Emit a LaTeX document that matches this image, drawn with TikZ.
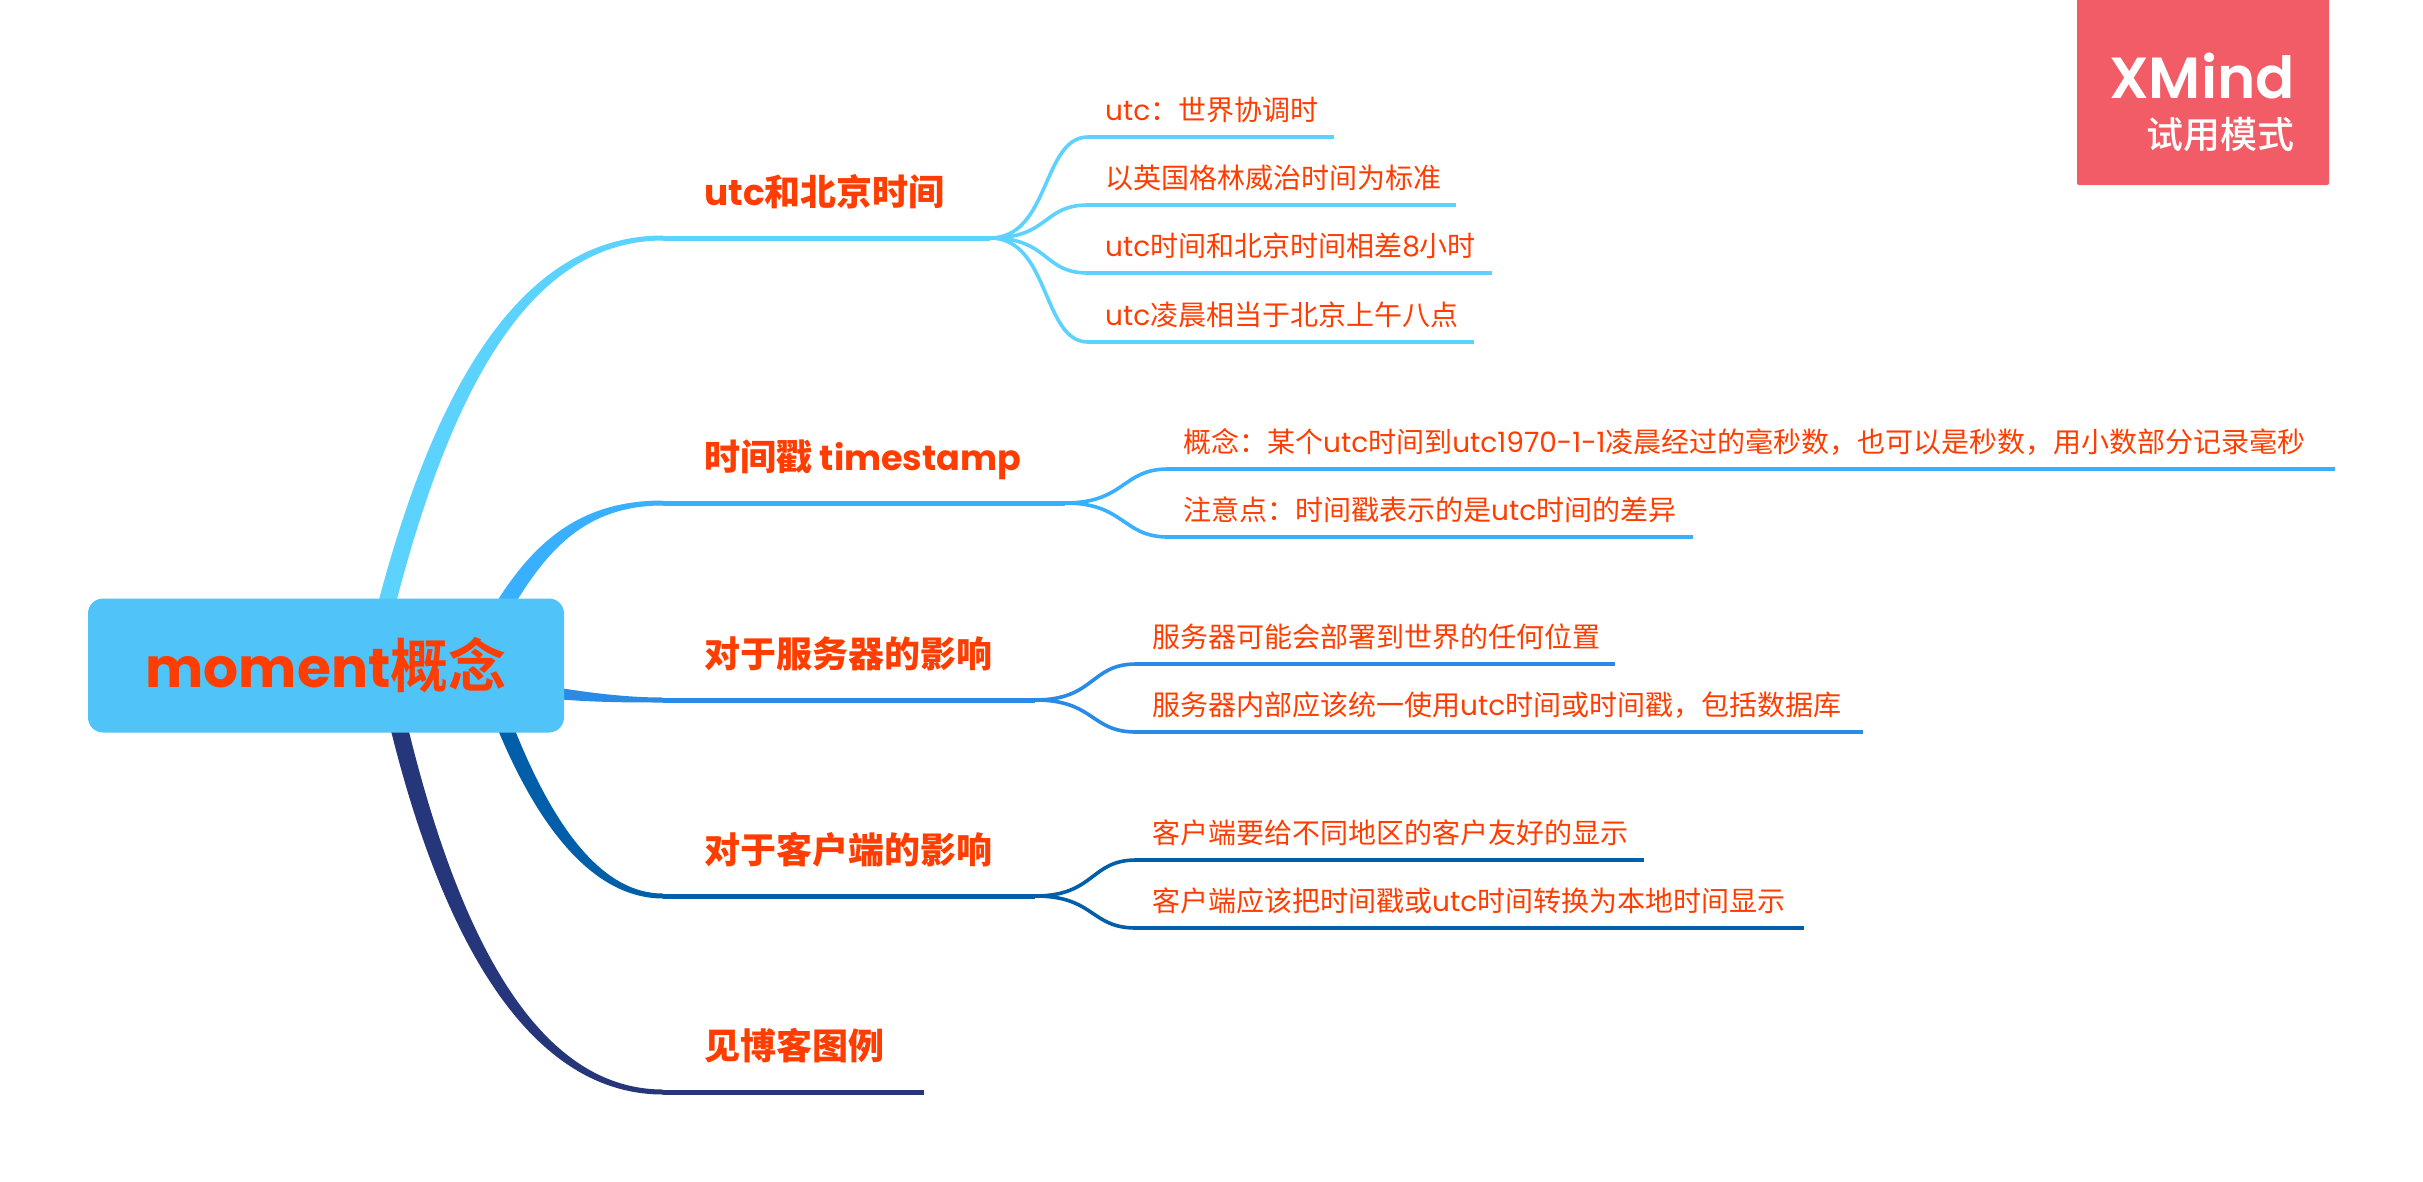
\documentclass[tikz,border=0pt]{standalone}
\usepackage{fontspec}
\setmainfont{Poppins}
\newfontfamily\zhfont{Noto Sans CJK SC}
\newfontfamily\zhblack{Noto Sans CJK SC Black}
\newfontfamily\zhmed{Noto Sans CJK SC Medium}
\newfontfamily\wmfont{Poppins SemiBold}
\newcommand{\zh}[1]{{\zhfont #1}}
\definecolor{txt}{HTML}{FF3D00}
\definecolor{boxc}{HTML}{50C3F8}
\definecolor{wm}{HTML}{F25C66}
\definecolor{ca}{HTML}{5CD3FF}
\definecolor{cb}{HTML}{38B0FF}
\definecolor{cc}{HTML}{2A8BE6}
\definecolor{cd}{HTML}{005FA8}
\definecolor{ce}{HTML}{26367A}
\tikzset{
  leaf/.style={anchor=base west,inner sep=0pt,text=txt,font=\fontsize{28}{34}\selectfont},
  topic/.style={anchor=base west,inner sep=0pt,text=txt,font=\fontsize{36}{44}\selectfont\bfseries},
  rule/.style={line width=5pt},
  subrule/.style={line width=4.6pt},
  link/.style={line width=3.6pt}
}
% colour, start, c1, c2, end, half width dx, dy  (dx side ends below the line)
\newcommand{\taper}[7]{%
  \fill[#1] ([shift={(#6,#7)}]#2) .. controls ([shift={(#6,#7)}]#3) and ([shift={(#6*0.45,2.5)}]#4) .. ([shift={(0,2.5)}]#5)
    -- ([shift={(0,-2.5)}]#5) .. controls ([shift={(-#6*0.45,-2.5)}]#4) and ([shift={(-#6,-#7)}]#3) .. ([shift={(-#6,-#7)}]#2) -- cycle;}
\newcommand{\twig}[4]{% colour, from, to, end of line
  \draw[#1,link] (#2) .. controls ([xshift=60pt]#2) and ([xshift=-46pt]#3) .. (#3);
  \draw[#1,subrule] (#3) -- (#4);}
\begin{document}
\begin{tikzpicture}[x=1pt,y=-1pt]
\useasboundingbox (0,0) rectangle (2423,1181);
% branch geometry
\coordinate (ba) at (663,238);  \coordinate (bae) at (990,238);
\coordinate (bb) at (663,503);  \coordinate (bbe) at (1065,503);
\coordinate (bc) at (663,700);  \coordinate (bce) at (1035,700);
\coordinate (bd) at (663,896);  \coordinate (bde) at (1035,896);
\coordinate (be) at (663,1092); \coordinate (bee) at (924,1092);
% tapered main branches
\coordinate (s1) at (372,665); \coordinate (k1a) at (432,400); \coordinate (k1b) at (520,238);
\coordinate (s2) at (475,660); \coordinate (k2a) at (524,560); \coordinate (k2b) at (570,503);
\coordinate (s3) at (500,685); \coordinate (k3a) at (560,695); \coordinate (k3b) at (610,700);
\coordinate (s4) at (478,650); \coordinate (k4a) at (528,810); \coordinate (k4b) at (590,896);
\coordinate (s5) at (385,665); \coordinate (k5a) at (440,930); \coordinate (k5b) at (530,1092);
\taper{ca}{s1}{k1a}{k1b}{ba}{8.5}{2}
\taper{cb}{s2}{k2a}{k2b}{bb}{8}{4}
\taper{cc}{s3}{k3a}{k3b}{bc}{0.5}{7}
\taper{cd}{s4}{k4a}{k4b}{bd}{-8}{2}
\taper{ce}{s5}{k5a}{k5b}{be}{-8.5}{2}
\draw[ca,rule] (ba) -- (bae);
\draw[cb,rule] (bb) -- (bbe);
\draw[cc,rule] (bc) -- (bce);
\draw[cd,rule] (bd) -- (bde);
\draw[ce,rule] (be) -- (bee);
% central topic
\node[fill=boxc,rounded corners=15pt,minimum width=476pt,minimum height=134pt,inner sep=0pt,text=txt,
  font=\fontsize{55}{60}\selectfont\bfseries] (root) at (326,665.5) {moment{\zhblack\fontsize{58}{60}\selectfont 概念}};
% topic labels
\node[topic] (ta) at (704,205) {utc\zh{和北京时间}};
\node[topic] (tb) at (704,470) {\zh{时间戳} {\fontsize{35}{44}\selectfont timestamp}};
\node[topic] (tc) at (704,667) {\zh{对于服务器的影响}};
\node[topic] (td) at (704,863) {\zh{对于客户端的影响}};
\node[topic] (te) at (704,1059) {\zh{见博客图例}};
% leaves of branch a
\coordinate (a1) at (1088,137); \coordinate (a1e) at (1334,137);
\coordinate (a2) at (1088,205); \coordinate (a2e) at (1456,205);
\coordinate (a3) at (1088,273); \coordinate (a3e) at (1492,273);
\coordinate (a4) at (1088,342); \coordinate (a4e) at (1474,342);
\twig{ca}{bae}{a1}{a1e}\twig{ca}{bae}{a2}{a2e}\twig{ca}{bae}{a3}{a3e}\twig{ca}{bae}{a4}{a4e}
\node[leaf] (la1) at (1105,120) {utc\zh{：世界协调时}};
\node[leaf] (la2) at (1105,188) {\zh{以英国格林威治时间为标准}};
\node[leaf] (la3) at (1105,256) {utc\zh{时间和北京时间相差}8\zh{小时}};
\node[leaf] (la4) at (1105,325) {utc\zh{凌晨相当于北京上午八点}};
% leaves of branch b
\coordinate (b1) at (1168,469); \coordinate (b1e) at (2335,469);
\coordinate (b2) at (1168,537); \coordinate (b2e) at (1693,537);
\twig{cb}{bbe}{b1}{b1e}\twig{cb}{bbe}{b2}{b2e}
\node[leaf] (lb1) at (1183,452) {\zh{概念：某个}utc\zh{时间到}utc1970-1-1\zh{凌晨经过的毫秒数，也可以是秒数，用小数部分记录毫秒}};
\node[leaf] (lb2) at (1183,520) {\zh{注意点：时间戳表示的是}utc\zh{时间的差异}};
% leaves of branch c
\coordinate (c1) at (1136,664); \coordinate (c1e) at (1615,664);
\coordinate (c2) at (1136,732); \coordinate (c2e) at (1863,732);
\twig{cc}{bce}{c1}{c1e}\twig{cc}{bce}{c2}{c2e}
\node[leaf] (lc1) at (1152,647) {\zh{服务器可能会部署到世界的任何位置}};
\node[leaf] (lc2) at (1152,715) {\zh{服务器内部应该统一使用}utc\zh{时间或时间戳，包括数据库}};
% leaves of branch d
\coordinate (d1) at (1136,860); \coordinate (d1e) at (1644,860);
\coordinate (d2) at (1136,928); \coordinate (d2e) at (1804,928);
\twig{cd}{bde}{d1}{d1e}\twig{cd}{bde}{d2}{d2e}
\node[leaf] (ld1) at (1152,843) {\zh{客户端要给不同地区的客户友好的显示}};
\node[leaf] (ld2) at (1152,911) {\zh{客户端应该把时间戳或}utc\zh{时间转换为本地时间显示}};
% watermark
\fill[wm,rounded corners=2pt] (2077,-6) rectangle (2329,185);
\node[anchor=base east,inner sep=0pt,text=white,font=\wmfont\fontsize{58}{60}\selectfont] (wm1) at (2295,98) {XMind};
\node[anchor=base east,inner sep=0pt,text=white,font=\zhmed\fontsize{37}{40}\selectfont] (wm2) at (2295,148) {试用模式};
\end{tikzpicture}
\end{document}
